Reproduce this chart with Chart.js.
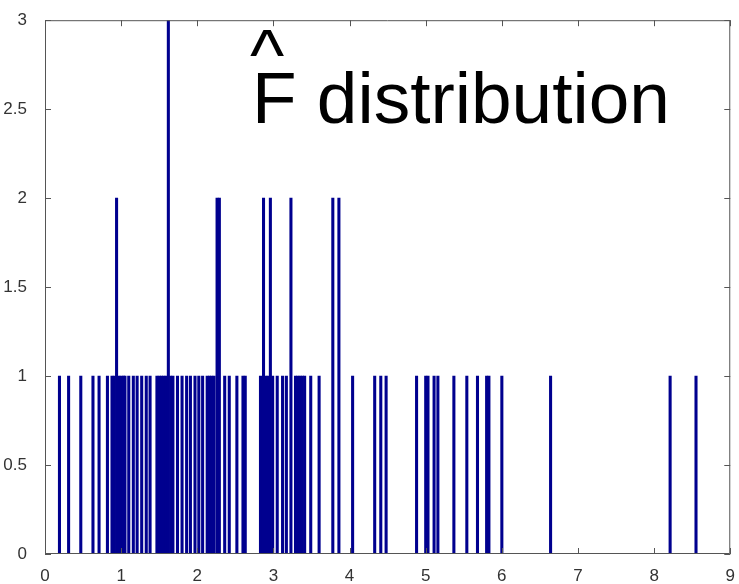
<!DOCTYPE html>
<html>
<head>
<meta charset="utf-8">
<script src="https://cdn.jsdelivr.net/npm/chart.js@4.4.0/dist/chart.umd.min.js"></script>
<style>
  html, body { margin: 0; padding: 0; background: #fff; }
  #wrap { width: 739px; height: 584px; }
</style>
</head>
<body>
<div id="wrap"><canvas id="hist" width="739" height="584"></canvas></div>
<script>
// bin centres, grouped by count
const binsCount1 = [
  0.19, 0.31, 0.47, 0.63, 0.71, 0.82,
  0.88, 0.91, 0.97, 1.00, 1.03, 1.05,
  1.10, 1.16, 1.21, 1.27, 1.33, 1.38,
  1.47, 1.50, 1.53, 1.56, 1.59, 1.65,
  1.68, 1.74, 1.80, 1.86, 1.91, 1.97, 2.02, 2.07,
  2.13, 2.16, 2.19, 2.22,
  2.36, 2.42, 2.52, 2.60, 2.63,
  2.83, 2.90, 2.93, 2.99,
  3.05, 3.12, 3.17,
  3.29, 3.32, 3.35, 3.38, 3.41,
  3.49, 3.60,
  4.04, 4.33, 4.41, 4.48,
  4.88, 5.00, 5.03, 5.11, 5.16, 5.37, 5.54, 5.68, 5.80, 5.83,
  6.00, 6.64, 8.21, 8.55
];
const binsCount2 = [0.94, 2.26, 2.29, 2.87, 2.96, 3.23, 3.78, 3.86];
const binsCount3 = [1.62];

const xTickValues = [0, 1, 2, 3, 4, 5, 6, 7, 8, 9];
const yTickValues = [0, 0.5, 1, 1.5, 2, 2.5, 3];

const titleText = 'F distribution';
const hatText = '^';

const points = []
  .concat(binsCount1.map(x => ({ x: x, y: 1 })))
  .concat(binsCount2.map(x => ({ x: x, y: 2 })))
  .concat(binsCount3.map(x => ({ x: x, y: 3 })));

/**
 * MATLAB style box with inward ticks + the big annotation
 */
const boxPlugin = {
  id: 'boxPlugin',
  afterDraw(chart) {
    const { ctx, chartArea: a, scales } = chart;
    const tl = 6;
    ctx.save();
    ctx.strokeStyle = '#555';
    ctx.lineWidth = 1;
    ctx.beginPath();
    ctx.rect(a.left + 0.5, a.top + 0.5, a.right - a.left - 1, a.bottom - a.top - 1);
    xTickValues.forEach(v => {
      const px = Math.round(scales.x.getPixelForValue(v)) + 0.5;
      ctx.moveTo(px, a.bottom);
      ctx.lineTo(px, a.bottom - tl);
      ctx.moveTo(px, a.top);
      ctx.lineTo(px, a.top + tl);
    });
    yTickValues.forEach(v => {
      const py = Math.round(scales.y.getPixelForValue(v)) + 0.5;
      ctx.moveTo(a.left, py);
      ctx.lineTo(a.left + tl, py);
      ctx.moveTo(a.right, py);
      ctx.lineTo(a.right - tl, py);
    });
    ctx.stroke();

    ctx.fillStyle = '#000';
    ctx.textBaseline = 'alphabetic';
    ctx.textAlign = 'left';
    ctx.font = '73px "Liberation Sans", Arial, sans-serif';
    ctx.fillText(titleText, 252, 123);
    ctx.fillText(hatText, 250, 80);
    ctx.restore();
  }
};

new Chart(document.getElementById('hist'), {
  type: 'bar',
  data: {
    datasets: [{
      data: points,
      backgroundColor: '#00008f',
      borderWidth: 0,
      barThickness: 2.4
    }]
  },
  options: {
    responsive: false,
    devicePixelRatio: 1,
    animation: false,
    layout: { autoPadding: false, padding: { left: 0, right: 8, top: 13, bottom: 0 } },
    plugins: { legend: { display: false }, tooltip: { enabled: false }, title: { display: false } },
    scales: {
      x: {
        type: 'linear',
        offset: false,
        min: 0,
        max: 9,
        afterFit: s => { s.height = 30; },
        afterBuildTicks: s => { s.ticks = xTickValues.map(v => ({ value: v })); },
        grid: { display: false, offset: false },
        border: { display: false },
        ticks: { padding: 4, color: '#333', font: { family: 'Liberation Sans', size: 17 }, maxRotation: 0,
                 callback: v => String(v) }
      },
      y: {
        min: 0,
        max: 3,
        afterFit: s => { s.width = 45; },
        afterBuildTicks: s => { s.ticks = yTickValues.map(v => ({ value: v })); },
        grid: { display: false },
        border: { display: false },
        ticks: { padding: 10, color: '#333', font: { family: 'Liberation Sans', size: 17 },
                 callback: v => String(v) }
      }
    }
  },
  plugins: [boxPlugin]
});
</script>
</body>
</html>
